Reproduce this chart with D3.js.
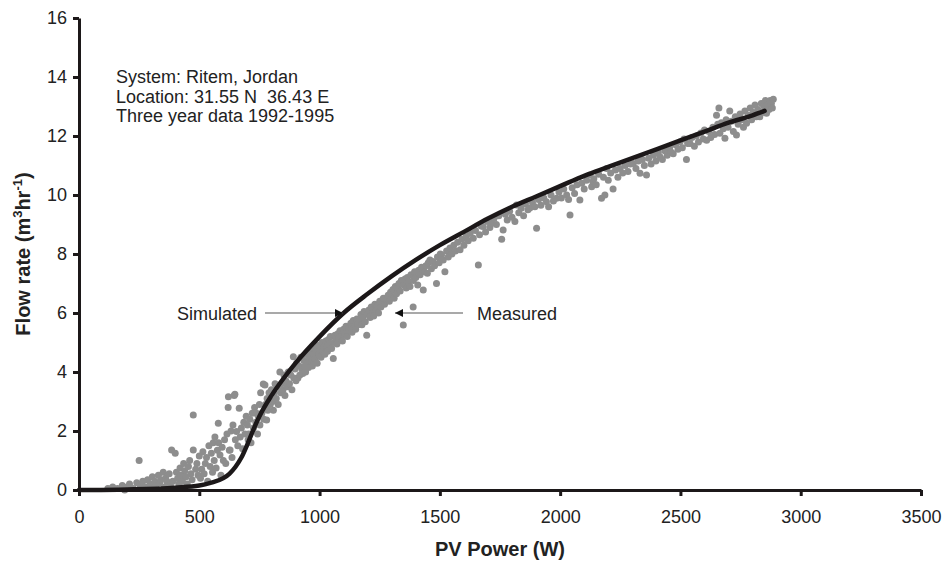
<!DOCTYPE html>
<html>
<head>
<meta charset="utf-8">
<script src="https://cdn.jsdelivr.net/npm/d3@7"></script>
<style>
  body { margin: 0; background: #fff; }
  svg { display: block; font-family: "Liberation Sans", Arial, sans-serif; }
</style>
</head>
<body>
<svg id="chart" width="944" height="564"></svg>
<script>
// axis ticks
var xTicks = [0, 500, 1000, 1500, 2000, 2500, 3000, 3500];
var yTicks = [0, 2, 4, 6, 8, 10, 12, 14, 16];

// simulated curve (W, m3/hr)
var simPower = [0, 200, 400, 500, 550, 600, 625, 650, 675, 700, 725, 750, 800, 850, 900, 1000, 1100, 1200, 1300, 1400, 1500, 1600, 1700, 1800, 1900, 2000, 2100, 2200, 2300, 2400, 2500, 2600, 2700, 2800, 2850];
var simFlow = [0, 0.02, 0.08, 0.15, 0.25, 0.4, 0.55, 0.78, 1.1, 1.55, 2.05, 2.5, 3.2, 3.78, 4.3, 5.2, 6.0, 6.65, 7.25, 7.8, 8.3, 8.75, 9.2, 9.6, 9.95, 10.3, 10.65, 10.95, 11.25, 11.55, 11.85, 12.15, 12.45, 12.7, 12.85];

// measured points [W, m3/hr], estimated from the scatter
var measured = [
  [120,0.05],[140,0.1],[160,0.05],[180,0.15],[190,0.0],[200,0.1],[210,0.2],[225,0.05],[240,0.25],[250,1.0],[255,0.15],[265,0.3],[275,0.1],[285,0.35],[295,0.2],[300,0.05],[305,0.45],[315,0.3],[320,0.15],[330,0.5],[335,0.25],[340,0.35],[350,0.6],[355,0.1],[360,0.4],[365,0.3],[370,0.2],[375,0.55],[380,0.15],[385,1.36],[390,0.3],[400,1.25],[405,0.6],[410,0.4],[415,0.2],[420,0.75],[425,0.5],[430,0.3],[435,0.9],[440,0.65],[445,0.45],[450,0.2],[455,0.8],[460,1.0],[465,0.55],[470,0.35],[475,1.36],[475,2.54],[485,0.7],[490,0.9],[495,0.5],[500,1.15],
  [505,0.4],[510,0.7],[515,1.3],[520,0.55],[525,0.9],[530,1.1],[535,0.3],[540,1.5],[545,0.8],[550,1.25],[555,0.6],[558,1.6],[562,1.0],[565,1.8],[570,0.75],[575,1.35],[579,2.26],[580,1.6],[586,1.19],[590,0.5],[595,1.45],[600,1.0],[605,1.7],[610,0.9],[615,1.9],[620,2.8],[621,3.16],[625,1.35],[628,1.36],[632,2.0],[636,1.1],[640,2.2],[645,3.2],[648,3.25],[650,1.7],[655,1.98],[660,1.5],[666,2.77],[670,1.8],[675,2.1],[680,1.4],[685,2.3],[690,1.9],[695,2.5],[700,2.2],[703,1.7],
  [705,1.9],[710,2.4],[715,1.6],[720,2.6],[725,2.1],[730,2.8],[735,2.3],[738,2.6],[742,1.9],[745,2.5],[750,2.9],[752,2.2],[755,3.3],[760,2.6],[766,3.59],[768,2.4],[773,3.56],[775,2.9],[780,2.37],[782,3.1],[785,2.7],[790,3.3],[795,2.9],[800,3.4],[805,3.0],[808,2.7],[812,3.3],[815,3.6],[820,3.1],[825,3.5],[828,2.9],[835,4.0],[838,3.3],[842,3.6],[848,3.4],[852,3.9],[856,3.2],[860,3.7],[865,3.5],[870,4.0],[875,3.6],[880,3.9],[885,3.4],[891,4.52],[893,3.8],[898,4.1],[902,3.7],
  [905,4.3],[910,3.8],[915,4.2],[918,3.9],[922,4.5],[926,4.1],[930,3.95],[934,4.4],[938,4.2],[942,4.0],[946,4.6],[950,4.3],[954,4.15],[958,4.5],[962,4.7],[966,4.35],[970,4.2],[974,4.6],[978,4.8],[982,4.45],[986,4.7],[990,4.3],[994,4.9],[998,4.6],[1002,4.75],[1006,4.5],[1010,5.0],[1014,4.7],[1018,4.85],[1022,4.6],[1026,5.05],[1029,4.86],[1033,4.7],[1037,5.1],[1041,4.95],[1045,5.2],[1050,4.8],[1057,4.46],[1060,5.0],[1064,5.25],[1068,5.1],[1072,4.95],[1076,5.3],[1080,5.15],[1085,5.4],[1090,5.2],[1095,5.05],[1100,5.45],[1105,5.3],[1110,5.55],[1115,5.2],[1120,5.5],[1125,5.4],[1130,5.65],[1135,5.35],[1140,5.75],[1145,5.55],[1150,5.45],[1155,5.8],[1160,5.6],[1168,5.76],[1172,5.95],[1176,5.6],[1180,5.85],[1185,6.05],[1190,5.7],[1196,5.25],[1200,5.95],[1205,6.1],[1210,5.85],[1215,6.2],[1220,6.0],[1225,5.9],[1230,6.3],[1235,6.1],[1240,6.25],[1245,6.0],[1250,6.4],[1255,6.2],[1260,6.35],[1265,6.5],[1270,6.3],[1279,6.44],[1285,6.6],[1290,6.4],[1295,6.7],[1300,6.55],
  [1305,6.8],[1310,6.5],[1315,6.9],[1320,6.65],[1325,6.85],[1330,7.0],[1335,6.75],[1340,7.1],[1348,5.59],[1350,6.95],[1355,7.15],[1360,6.85],[1365,7.2],[1370,7.05],[1376,6.9],[1380,7.3],[1389,6.2],[1390,7.1],[1395,7.4],[1400,7.2],[1408,6.95],[1412,7.45],[1418,7.3],[1424,7.55],[1431,6.78],[1436,7.4],[1442,7.6],[1448,7.35],[1452,7.7],[1459,7.8],[1465,7.5],[1470,7.75],[1478,7.6],[1486,7.0],[1490,7.9],[1497,7.7],[1502,8.0],[1507,7.97],[1514,7.8],[1521,7.4],[1528,8.1],[1535,7.9],[1542,8.2],[1550,8.0],[1558,8.3],[1565,8.1],[1574,8.4],[1584,8.14],[1592,8.5],[1600,8.3],[1610,8.6],[1618,8.45],[1626,8.7],[1639,8.53],[1648,8.8],[1660,7.63],[1665,8.65],[1672,8.95],[1680,8.93],[1690,8.75],[1698,9.1],[1708,8.9],[1715,9.04],[1725,9.2],[1735,9.0],[1745,9.3],[1757,8.5],[1763,8.81],[1772,9.35],[1780,9.15],[1790,9.45],[1800,9.25],
  [1812,9.1],[1819,9.66],[1828,9.4],[1838,9.55],[1848,9.3],[1856,9.7],[1866,9.5],[1874,9.56],[1885,9.75],[1895,9.6],[1902,8.87],[1910,9.85],[1920,9.65],[1932,9.9],[1943,9.77],[1952,9.6],[1962,10.0],[1972,9.8],[1985,9.89],[1995,10.1],[2005,9.9],[2015,10.2],[2027,10.0],[2035,9.85],[2041,9.32],[2050,10.25],[2060,10.05],[2070,10.35],[2082,9.83],[2090,10.4],[2100,10.2],[2110,10.5],[2124,10.68],[2131,10.28],[2136,10.45],[2140,10.55],[2150,10.35],[2160,10.7],[2172,9.89],[2180,10.6],[2186,10.0],[2193,10.9],[2200,10.5],[2210,10.75],[2220,10.2],[2230,10.85],[2240,10.6],[2249,10.9],[2260,10.75],[2270,11.0],[2282,10.8],[2292,11.05],[2304,11.07],[2315,10.9],[2325,11.15],[2332,10.74],[2342,11.2],[2350,11.0],[2359,10.68],[2368,11.25],[2378,11.05],[2388,11.35],[2398,11.15],[2408,11.45],[2415,11.3],[2425,11.2],[2435,11.5],[2445,11.35],[2455,11.6],[2462,11.45],[2470,11.4],[2480,11.7],[2490,11.55],[2498,11.8],[2508,11.6],[2515,11.9],
  [2525,11.2],[2530,11.75],[2540,11.75],[2548,11.95],[2558,11.65],[2566,12.0],[2575,11.8],[2585,12.1],[2595,11.9],[2600,12.2],[2609,11.86],[2618,12.15],[2626,11.95],[2635,12.3],[2642,12.05],[2650,12.7],[2655,12.4],[2660,12.95],[2664,12.09],[2670,12.45],[2678,12.25],[2685,11.92],[2690,12.55],[2698,12.3],[2705,12.85],[2712,12.5],[2720,12.15],[2728,12.65],[2733,12.03],[2740,12.4],[2748,12.75],[2755,12.55],[2762,12.3],[2768,12.85],[2775,12.43],[2782,12.7],[2790,12.95],[2796,12.55],[2803,12.8],[2810,13.05],[2816,12.65],[2822,12.9],[2830,12.65],[2836,13.1],[2842,12.8],[2848,13.0],[2853,13.2],[2858,12.77],[2862,13.05],[2868,12.9],[2873,13.2],[2878,13.1],[2882,12.95],[2886,13.25]
];

var infoLines = ["System: Ritem, Jordan", "Location: 31.55 N  36.43 E", "Three year data 1992-1995"];

var svg = d3.select("#chart");
var x = d3.scaleLinear().domain([0, 3500]).range([79, 921]);
var y = d3.scaleLinear().domain([0, 16]).range([490, 18]);

// measured scatter
svg.append("g").selectAll("circle")
  .data(measured)
  .enter().append("circle")
  .attr("cx", function(d){ return x(d[0]); })
  .attr("cy", function(d){ return y(d[1]); })
  .attr("r", 3.5)
  .attr("fill", "#8d8d8d");

// simulated line
var simData = simPower.map(function(p, i){ return [p, simFlow[i]]; });
var line = d3.line()
  .x(function(d){ return x(d[0]); })
  .y(function(d){ return y(d[1]); })
  .curve(d3.curveMonotoneX);
svg.append("path")
  .datum(simData)
  .attr("d", line)
  .attr("fill", "none")
  .attr("stroke", "#1c1819")
  .attr("stroke-width", 4.5)
  .attr("stroke-linecap", "round");

// axes
var xAxis = svg.append("g")
  .attr("transform", "translate(0,490)")
  .call(d3.axisBottom(x).tickValues(xTicks).tickFormat(d3.format("d")).tickSizeInner(6).tickSizeOuter(0).tickPadding(14));
var yAxis = svg.append("g")
  .attr("transform", "translate(79,0)")
  .call(d3.axisLeft(y).tickValues(yTicks).tickFormat(d3.format("d")).tickSizeInner(6).tickSizeOuter(0).tickPadding(6));
[xAxis, yAxis].forEach(function(a){
  a.select(".domain").attr("stroke", "#1c1819").attr("stroke-width", 3);
  a.selectAll(".tick line").attr("stroke", "#1c1819").attr("stroke-width", 3);
  a.selectAll(".tick text").attr("fill", "#222").style("font-size", "18px").style("font-family", "'Liberation Sans', Arial, sans-serif");
});

// axis titles
svg.append("text")
  .attr("x", x(1750)).attr("y", 556)
  .attr("text-anchor", "middle")
  .style("font-size", "20px").style("font-weight", "bold").attr("fill", "#222")
  .text("PV Power (W)");
var yt = svg.append("text")
  .attr("transform", "translate(30," + y(8) + ") rotate(-90)")
  .attr("text-anchor", "middle")
  .style("font-size", "20px").style("font-weight", "bold").attr("fill", "#222");
yt.append("tspan").text("Flow rate (m");
yt.append("tspan").attr("dy", -8).style("font-size", "13px").text("3");
yt.append("tspan").attr("dy", 8).text("hr");
yt.append("tspan").attr("dy", -8).style("font-size", "13px").text("-1");
yt.append("tspan").attr("dy", 8).text(")");

// info text (keep the double space)
svg.append("g").selectAll("text")
  .data(infoLines)
  .enter().append("text")
  .attr("x", 116)
  .attr("y", function(d, i){ return 83 + i * 19.5; })
  .style("font-size", "18px").style("white-space", "pre").attr("fill", "#222")
  .text(function(d){ return d; });

// annotation arrows
var defs = svg.append("defs");
defs.append("marker")
  .attr("id", "arr")
  .attr("viewBox", "0 0 10 10")
  .attr("refX", 10).attr("refY", 5)
  .attr("markerWidth", 8).attr("markerHeight", 8)
  .attr("markerUnits", "userSpaceOnUse")
  .attr("orient", "auto")
  .append("path").attr("d", "M0,0 L10,5 L0,10 z").attr("fill", "#111");

svg.append("line")
  .attr("x1", 265).attr("y1", 313).attr("x2", 343).attr("y2", 313)
  .attr("stroke", "#555").attr("stroke-width", 1.2)
  .attr("marker-end", "url(#arr)");
svg.append("text")
  .attr("x", 257).attr("y", 319.5)
  .attr("text-anchor", "end")
  .style("font-size", "18px").attr("fill", "#222")
  .text("Simulated");

svg.append("line")
  .attr("x1", 463).attr("y1", 313).attr("x2", 395).attr("y2", 313)
  .attr("stroke", "#555").attr("stroke-width", 1.2)
  .attr("marker-end", "url(#arr)");
svg.append("text")
  .attr("x", 477).attr("y", 319.5)
  .style("font-size", "18px").attr("fill", "#222")
  .text("Measured");
</script>
</body>
</html>
